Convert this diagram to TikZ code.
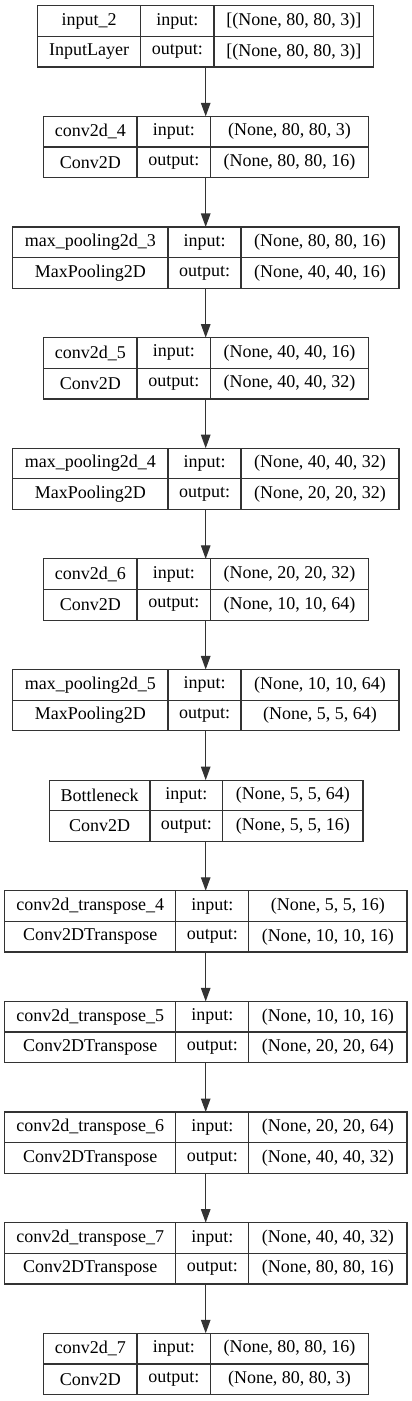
\documentclass[tikz,border=0pt]{standalone}
\usepackage{fontspec}
\setmainfont{Liberation Serif}
\usetikzlibrary{arrows.meta}
\tikzset{
  cell/.style={draw=black!80, line width=1.2pt, inner sep=0pt, outer sep=0pt,
    anchor=center, font=\fontsize{18}{21}\selectfont, text=black},
  frame/.style={inner sep=0pt, outer sep=0pt, anchor=center},
  arr/.style={draw=black!80, line width=1.2pt,
    -{Triangle[length=13.5pt,width=9.5pt]}}
}
\def\geominp{\def\xa{37.7}\def\xb{140.7}\def\xc{214}\def\xd{373.7}}
\def\geomconv{\def\xa{43.7}\def\xb{137}\def\xc{210.7}\def\xd{368.3}}
\def\geompool{\def\xa{12.7}\def\xb{168}\def\xc{241}\def\xd{399}}
\def\geombott{\def\xa{49.3}\def\xb{150}\def\xc{222.7}\def\xd{363}}
\def\geomtran{\def\xa{4.7}\def\xb{175.8}\def\xc{248.8}\def\xd{407}}
\newcommand\layer[7]{%
  \csname geom#3\endcsname
  \pgfmathsetmacro\ytop{5.7+110.63*#2}%
  \pgfmathsetmacro\ya{\ytop+15.33}%
  \pgfmathsetmacro\yb{\ytop+45.98}%
  \pgfmathsetmacro\ym{\ytop+30.65}%
  \node[frame, minimum width={(\xd-\xa)*1pt}, minimum height=61.3pt] (#1) at ({(\xa+\xd)/2},\ym) {};
  \node[cell, minimum width={(\xb-\xa)*1pt}, minimum height=30.65pt] (#1n) at ({(\xa+\xb)/2},\ya) {#4};
  \node[cell, minimum width={(\xb-\xa)*1pt}, minimum height=30.65pt] (#1c) at ({(\xa+\xb)/2},\yb) {#5};
  \node[cell, minimum width={(\xc-\xb)*1pt}, minimum height=30.65pt] (#1il) at ({(\xb+\xc)/2},\ya) {input:};
  \node[cell, minimum width={(\xc-\xb)*1pt}, minimum height=30.65pt] (#1ol) at ({(\xb+\xc)/2},\yb) {output:};
  \node[cell, minimum width={(\xd-\xc)*1pt}, minimum height=30.65pt] (#1iv) at ({(\xc+\xd)/2},\ya) {#6};
  \node[cell, minimum width={(\xd-\xc)*1pt}, minimum height=30.65pt] (#1ov) at ({(\xc+\xd)/2},\yb) {#7};
}
\begin{document}
\begin{tikzpicture}[x=1pt, y=-1pt]
\path[use as bounding box, fill=white] (0,0) rectangle (412,1401);
\layer{L0}{0}{inp}{input\_2}{InputLayer}{[(None, 80, 80, 3)]}{[(None, 80, 80, 3)]}
\layer{L1}{1}{conv}{conv2d\_4}{Conv2D}{(None, 80, 80, 3)}{(None, 80, 80, 16)}
\layer{L2}{2}{pool}{max\_pooling2d\_3}{MaxPooling2D}{(None, 80, 80, 16)}{(None, 40, 40, 16)}
\layer{L3}{3}{conv}{conv2d\_5}{Conv2D}{(None, 40, 40, 16)}{(None, 40, 40, 32)}
\layer{L4}{4}{pool}{max\_pooling2d\_4}{MaxPooling2D}{(None, 40, 40, 32)}{(None, 20, 20, 32)}
\layer{L5}{5}{conv}{conv2d\_6}{Conv2D}{(None, 20, 20, 32)}{(None, 10, 10, 64)}
\layer{L6}{6}{pool}{max\_pooling2d\_5}{MaxPooling2D}{(None, 10, 10, 64)}{(None, 5, 5, 64)}
\layer{L7}{7}{bott}{Bottleneck}{Conv2D}{(None, 5, 5, 64)}{(None, 5, 5, 16)}
\layer{L8}{8}{tran}{conv2d\_transpose\_4}{Conv2DTranspose}{(None, 5, 5, 16)}{(None, 10, 10, 16)}
\layer{L9}{9}{tran}{conv2d\_transpose\_5}{Conv2DTranspose}{(None, 10, 10, 16)}{(None, 20, 20, 64)}
\layer{L10}{10}{tran}{conv2d\_transpose\_6}{Conv2DTranspose}{(None, 20, 20, 64)}{(None, 40, 40, 32)}
\layer{L11}{11}{tran}{conv2d\_transpose\_7}{Conv2DTranspose}{(None, 40, 40, 32)}{(None, 80, 80, 16)}
\layer{L12}{12}{conv}{conv2d\_7}{Conv2D}{(None, 80, 80, 16)}{(None, 80, 80, 3)}
\foreach \i [evaluate=\i as \j using int(\i+1)] in {0,...,11}{
  \draw[arr] (L\i.south -| L0.south) -- (L\j.north -| L0.south);
}
\end{tikzpicture}
\end{document}
